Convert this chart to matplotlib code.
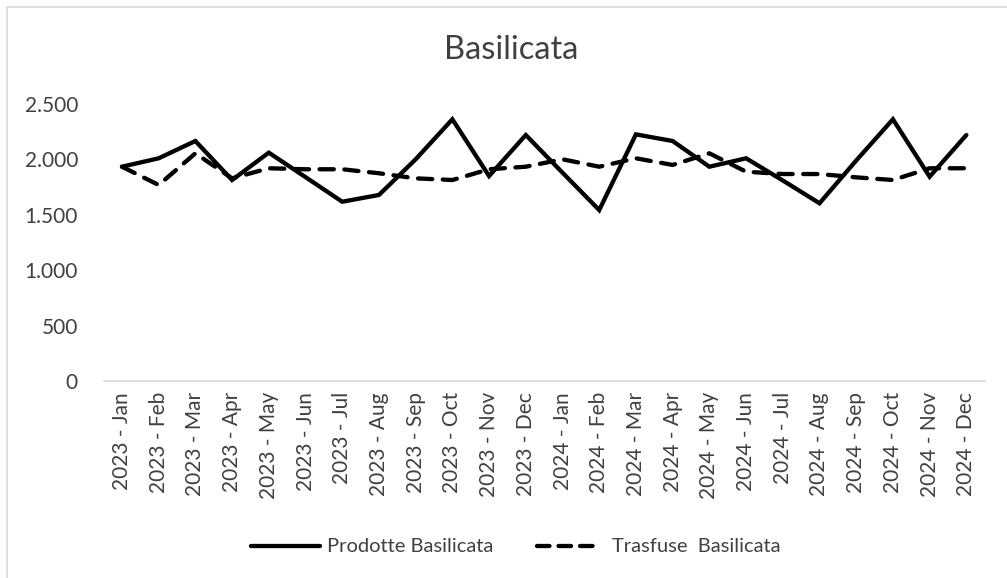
import matplotlib
matplotlib.use("Agg")
import matplotlib.pyplot as plt
from matplotlib.lines import Line2D
from matplotlib.patches import Rectangle
from matplotlib.ticker import FuncFormatter

months = ["Jan", "Feb", "Mar", "Apr", "May", "Jun", "Jul", "Aug", "Sep", "Oct", "Nov", "Dec"]
categories = [f"{y} - {m}" for y in (2023, 2024) for m in months]

prodotte = [1934, 2010, 2166, 1814, 2061, 1840, 1618, 1679, 2001, 2362, 1850, 2220,
            1880, 1543, 2226, 2166, 1934, 2010, 1810, 1604, 1990, 2362, 1844, 2220]
trasfuse = [1934, 1769, 2055, 1829, 1920, 1911, 1911, 1875, 1829, 1814, 1911, 1934,
            2001, 1934, 2010, 1950, 2055, 1889, 1868, 1868, 1838, 1814, 1920, 1920]

yticks = [0, 500, 1000, 1500, 2000, 2500]
title = "Basilicata"
labels = ["Prodotte Basilicata", "Trasfuse  Basilicata"]

FONT = ["Lato", "DejaVu Sans"]
TXT = "#404040"

W, H = 1007, 578
fig = plt.figure(figsize=(W / 100, H / 100), dpi=100)
fig.patch.set_facecolor("white")

# chart area border
fig.add_artist(Rectangle((7 / W, -0.1), 1.2, 1 - 6.5 / H + 0.1, transform=fig.transFigure,
                         fill=False, edgecolor="#d9d9d9", lw=1.2, zorder=0))

left, right = 103.6 / W, 984.7 / W
bottom, top = 1 - 381 / H, 1 - 104 / H
ax = fig.add_axes([left, bottom, right - left, top - bottom])

x = list(range(len(categories)))
lw = 3.1
ax.plot(x, prodotte, color="black", lw=lw, solid_joinstyle="miter", solid_capstyle="round")
ax.plot(x, trasfuse, color="black", lw=lw, linestyle=(0, (3.3, 2.45)),
        dash_capstyle="round", dash_joinstyle="round")

ax.set_xlim(-0.5, len(categories) - 0.5)
ax.set_ylim(0, 2500)
ax.set_yticks(yticks)
ax.yaxis.set_major_formatter(FuncFormatter(lambda v, p: f"{int(v):,}".replace(",", ".")))
ax.set_xticks(x)
ax.set_xticklabels(categories, rotation=90, va="top", ha="center")

for s in ("top", "right", "left"):
    ax.spines[s].set_visible(False)
ax.spines["bottom"].set_color("#d9d9d9")
ax.spines["bottom"].set_linewidth(1.2)
ax.tick_params(axis="both", length=0, labelsize=15, labelcolor=TXT)
ax.tick_params(axis="y", pad=18.5)
ax.tick_params(axis="x", pad=8)
for t in ax.get_xticklabels() + ax.get_yticklabels():
    t.set_family(FONT)

fig.text(511 / W, 1 - 50 / H, title, ha="center", va="center", fontsize=23.5,
         color=TXT, family=FONT)

# legend
y_leg = 1 - 546 / H
fig.add_artist(Line2D([251 / W, 320 / W], [y_leg, y_leg], transform=fig.transFigure,
                      color="black", lw=lw, solid_capstyle="round"))
fig.text(327 / W, y_leg, labels[0], ha="left", va="center", fontsize=14.5, color=TXT, family=FONT)
fig.add_artist(Line2D([537 / W, 599 / W], [y_leg, y_leg], transform=fig.transFigure,
                      color="black", lw=lw, linestyle=(0, (2.9, 2.1)), dash_capstyle="round"))
fig.text(612 / W, y_leg, labels[1], ha="left", va="center", fontsize=14.5, color=TXT, family=FONT)

fig.savefig("out.png", dpi=100, facecolor="white")
